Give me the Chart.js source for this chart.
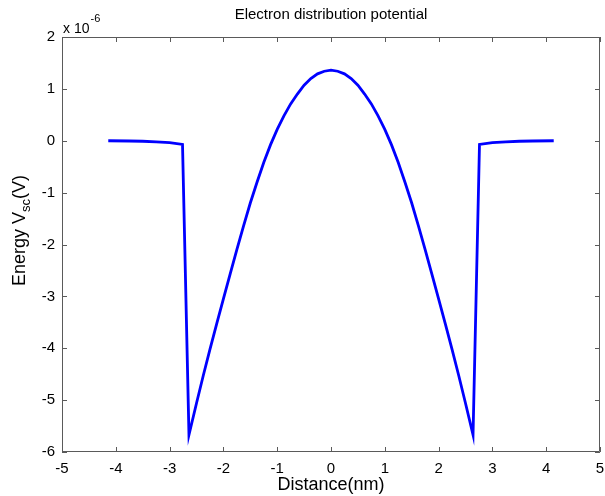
<!DOCTYPE html>
<html>
<head>
<meta charset="utf-8">
<script src="https://cdn.jsdelivr.net/npm/chart.js@4.4.1/dist/chart.umd.min.js"></script>
<style>
  body { margin: 0; background: #fff; }
  canvas { display: block; }
</style>
</head>
<body>
<canvas id="chart" width="605" height="496"></canvas>
<script>
// distance in nm, energy in units of 1e-6 V (axis shows "x 10^-6")
const distanceNm = [
  -4.14, -3.75, -3.5, -3.25, -3.0, -2.76, -2.64,
  -2.5, -2.375, -2.25, -2.125, -2.0, -1.875, -1.75, -1.625, -1.5, -1.375, -1.25, -1.125,
  -1.0, -0.875, -0.75, -0.625, -0.5, -0.375, -0.25, -0.125, 0,
  0.125, 0.25, 0.375, 0.5, 0.625, 0.75, 0.875, 1.0,
  1.125, 1.25, 1.375, 1.5, 1.625, 1.75, 1.875, 2.0, 2.125, 2.25, 2.375, 2.5,
  2.64, 2.76, 3.0, 3.25, 3.5, 3.75, 4.14,
];
const energyV = [
  0.0, -0.005, -0.01, -0.02, -0.035, -0.07, -5.67,
  -5.06, -4.53, -4.02, -3.53, -3.05, -2.57, -2.10, -1.64, -1.20, -0.80, -0.42, -0.08,
  0.22, 0.48, 0.71, 0.90, 1.07, 1.20, 1.29, 1.34, 1.36,
  1.34, 1.29, 1.20, 1.07, 0.90, 0.71, 0.48, 0.22,
  -0.08, -0.42, -0.80, -1.20, -1.64, -2.10, -2.57, -3.05, -3.53, -4.02, -4.53, -5.06,
  -5.67, -0.07, -0.035, -0.02, -0.01, -0.005, 0.0,
];
const xTicks = [-5, -4, -3, -2, -1, 0, 1, 2, 3, 4, 5];
const yTicks = [-6, -5, -4, -3, -2, -1, 0, 1, 2];

const FONT = 'Liberation Sans, Arial, sans-serif';
const AXIS_COLOR = '#5a5a5a';

const points = distanceNm.map((d, i) => ({ x: d, y: energyV[i] }));

// matlab style box: inward ticks on all sides, title over the axes, exponent note, y label with subscript
const matlabBox = {
  id: 'matlabBox',
  afterDraw(chart) {
    const { ctx, chartArea: a, scales } = chart;
    const tl = 5;
    ctx.save();
    ctx.strokeStyle = AXIS_COLOR;
    ctx.lineWidth = 1;
    ctx.beginPath();
    ctx.rect(a.left + 0.5, a.top + 0.5, a.right - a.left - 1, a.bottom - a.top - 1);
    xTicks.forEach((v) => {
      const px = Math.round(scales.x.getPixelForValue(v)) + 0.5;
      ctx.moveTo(px, a.bottom); ctx.lineTo(px, a.bottom - tl);
      ctx.moveTo(px, a.top); ctx.lineTo(px, a.top + tl);
    });
    yTicks.forEach((v) => {
      const py = Math.round(scales.y.getPixelForValue(v)) + 0.5;
      ctx.moveTo(a.left, py); ctx.lineTo(a.left + tl, py);
      ctx.moveTo(a.right, py); ctx.lineTo(a.right - tl, py);
    });
    ctx.stroke();

    ctx.fillStyle = '#000';
    ctx.textBaseline = 'alphabetic';

    // title
    ctx.textAlign = 'center';
    ctx.font = '15px ' + FONT;
    ctx.fillText('Electron distribution potential', (a.left + a.right) / 2, 19);

    // exponent
    ctx.textAlign = 'left';
    ctx.font = '14px ' + FONT;
    ctx.fillText('x 10', a.left + 1, 33);
    const w = ctx.measureText('x 10').width;
    ctx.font = '11px ' + FONT;
    ctx.fillText('-6', a.left + 1 + w + 1, 22);

    // y axis title
    const cy = (a.top + a.bottom) / 2 - 14;
    ctx.translate(25, cy);
    ctx.rotate(-Math.PI / 2);
    const big = '18px ' + FONT;
    const small = '13px ' + FONT;
    ctx.font = big;
    const w1 = ctx.measureText('Energy V').width;
    const w3 = ctx.measureText('(V)').width;
    ctx.font = small;
    const w2 = ctx.measureText('sc').width;
    let x = -(w1 + w2 + w3) / 2;
    ctx.font = big;
    ctx.fillText('Energy V', x, 0);
    x += w1;
    ctx.font = small;
    ctx.fillText('sc', x, 5);
    x += w2;
    ctx.font = big;
    ctx.fillText('(V)', x, 0);
    ctx.restore();
  },
};

new Chart(document.getElementById('chart'), { // eslint-disable-line no-new
  type: 'scatter',
  data: {
    datasets: [
      {
        data: points,
        showLine: true,
        borderColor: '#0000ff',
        borderWidth: 2.8,
        pointRadius: 0,
        fill: false,
        tension: 0,
      },
    ],
  },
  options: {
    responsive: false,
    animation: false,
    layout: { padding: { left: 0, right: 5, top: 37, bottom: 0 } },
    plugins: {
      legend: { display: false },
      tooltip: { enabled: false },
      title: { display: false },
    },
    scales: {
      x: {
        type: 'linear',
        min: -5,
        max: 5,
        afterFit: (s) => {
          s.height = 44;
          s.paddingLeft = 0;
          s.paddingRight = 0;
        },
        afterBuildTicks: (s) => { s.ticks = xTicks.map((v) => ({ value: v })); },
        grid: { display: false, drawTicks: false },
        border: { display: false },
        ticks: {
          color: '#000',
          padding: 8,
          font: { family: FONT, size: 15 },
          maxRotation: 0,
        },
        title: {
          display: true,
          text: 'Distance(nm)',
          color: '#000',
          font: { family: FONT, size: 18 },
          padding: { top: 0, bottom: 0 },
        },
      },
      y: {
        type: 'linear',
        min: -6,
        max: 2,
        afterFit: (s) => {
          s.width = 62;
          s.paddingTop = 0;
          s.paddingBottom = 0;
        },
        afterBuildTicks: (s) => { s.ticks = yTicks.map((v) => ({ value: v })); },
        grid: { display: false, drawTicks: false },
        border: { display: false },
        ticks: {
          color: '#000',
          padding: 7,
          font: { family: FONT, size: 15 },
        },
      },
    },
  },
  plugins: [matlabBox],
});
</script>
</body>
</html>
